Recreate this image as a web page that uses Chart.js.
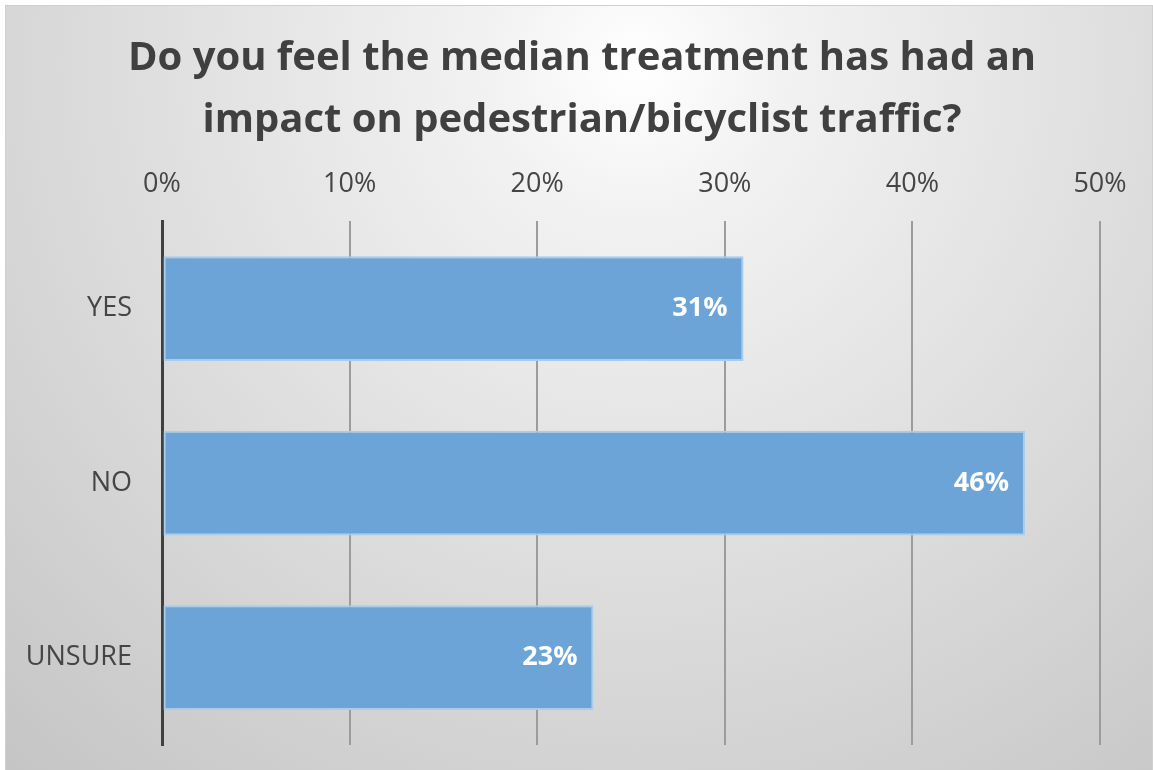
<!DOCTYPE html>
<html>
<head>
<meta charset="utf-8">
<script src="https://cdn.jsdelivr.net/npm/chart.js@4"></script>
<style>
    body { margin: 0; background: #ffffff; }
    #wrap {
        position: absolute;
        left: 5px;
        top: 5px;
        width: 1146px;
        height: 764px;
        border: 1px solid #d0d0d0;
    }
    #chart { display: block; }
</style>
</head>
<body>
<div id="wrap"><canvas id="chart" width="1146" height="764"></canvas></div>
<script>
// 回答の区分と割合（％）
const answers = ['YES', 'NO', 'UNSURE'];
const shares = [31, 46, 23];
const titleLines = ['Do you feel the median treatment has had an', 'impact on pedestrian/bicyclist traffic?'];

// 背景のグラデーション（上中央が白く、周囲がグレー）
const bgPlugin = {
    id: 'bgGradient',
    beforeDraw(chart) {
        const { ctx, width, height } = chart;
        const g = ctx.createRadialGradient(width * 0.55, height * 0.08, 0, width * 0.55, height * 0.08, width * 0.85);
        g.addColorStop(0, '#ffffff');
        g.addColorStop(0.15, '#f2f2f2');
        g.addColorStop(1, '#c3c3c3');
        ctx.save();
        ctx.fillStyle = g;
        ctx.fillRect(0, 0, width, height);
        ctx.restore();
    }
};

// バーの右端の内側に値を表示
const valueLabels = {
    id: 'valueLabels',
    afterDatasetsDraw(chart) {
        const { ctx } = chart;
        const meta = chart.getDatasetMeta(0);
        ctx.save();
        ctx.fillStyle = '#ffffff';
        ctx.font = 'bold 27px "Open Sans"';
        ctx.textAlign = 'right';
        ctx.textBaseline = 'middle';
        meta.data.forEach((bar, i) => {
            ctx.fillText(shares[i] + '%', bar.x - 16, bar.y);
        });
        ctx.restore();
    }
};

const ctx = document.getElementById('chart').getContext('2d');
new Chart(ctx, {
    type: 'bar',
    data: {
        labels: answers,
        datasets: [{
            data: shares,
            backgroundColor: '#6ca4d8',
            borderColor: '#a9cbec',
            borderWidth: 2,
            borderSkipped: false,
            barPercentage: 0.6,
            categoryPercentage: 1
        }]
    },
    options: {
        indexAxis: 'y',
        responsive: false,
        animation: false,
        layout: { padding: { left: 18, right: 12, top: 0, bottom: 25 } },
        plugins: {
            legend: { display: false },
            tooltip: { enabled: false },
            title: {
                display: true,
                text: titleLines,
                color: '#404040',
                font: { family: 'Open Sans', size: 40, weight: 'bold', lineHeight: 1.55 },
                padding: { top: 22, bottom: -5 }
            }
        },
        scales: {
            x: {
                position: 'top',
                min: 0,
                max: 50,
                ticks: {
                    stepSize: 10,
                    padding: 21,
                    color: '#454545',
                    font: { family: 'Open Sans', size: 27 },
                    callback: v => v + '%'
                },
                grid: {
                    drawTicks: false,
                    color: c => c.index === 0 ? '#404040' : '#9c9c9c',
                    lineWidth: c => c.index === 0 ? 3 : 2
                },
                border: { display: false },
                // 右側の余白を固定
                afterFit: scale => { scale.paddingRight = 52; }
            },
            y: {
                ticks: {
                    padding: 30,
                    color: '#454545',
                    font: { family: 'Open Sans', size: 27 }
                },
                grid: { display: false, drawTicks: false },
                border: { display: true, color: '#404040', width: 3 },
                // ラベル欄の幅を固定、下端の余白はレイアウト側で決める
                afterFit: scale => { scale.width = 138; scale.paddingBottom = 0; scale.paddingTop = 0; }
            }
        }
    },
    plugins: [bgPlugin, valueLabels]
});
</script>
</body>
</html>
